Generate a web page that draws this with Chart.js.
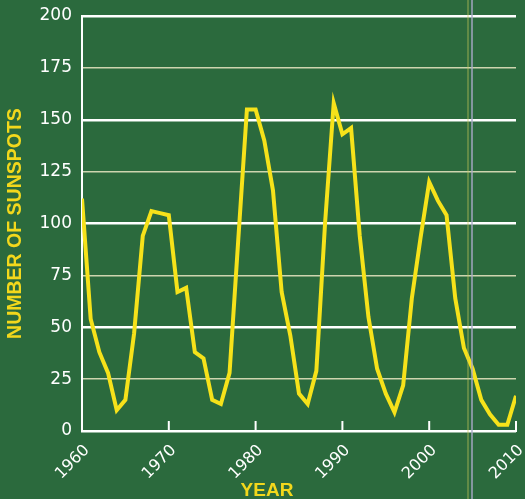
<!DOCTYPE html>
<html>
<head>
<meta charset="utf-8">
<script src="https://cdn.jsdelivr.net/npm/chart.js@4.4.1/dist/chart.umd.min.js"></script>
<style>
  html, body { margin: 0; padding: 0; background: #2b6a3d; }
  #wrap { position: relative; width: 525px; height: 499px; }
  #fold { position: absolute; left: 467px; top: 0; width: 6px; height: 499px;
          background: linear-gradient(to right, rgba(200,200,90,0.35) 0 2px, transparent 2px 4px, rgba(170,170,200,0.7) 4px 6px);
          pointer-events: none; }
</style>
</head>
<body>
<div id="wrap">
  <canvas id="sunspots" width="525" height="499"></canvas>
  <div id="fold"></div>
</div>
<script>
// yearly mean sunspot numbers
const years = [1960, 1961, 1962, 1963, 1964, 1965, 1966, 1967, 1968, 1969,
               1970, 1971, 1972, 1973, 1974, 1975, 1976, 1977, 1978, 1979,
               1980, 1981, 1982, 1983, 1984, 1985, 1986, 1987, 1988, 1989,
               1990, 1991, 1992, 1993, 1994, 1995, 1996, 1997, 1998, 1999,
               2000, 2001, 2002, 2003, 2004, 2005, 2006, 2007, 2008, 2009, 2010]
const sunspots = [112, 54, 38, 28, 10, 15, 47, 94, 106, 105,
                  104, 67, 69, 38, 35, 15, 13, 28, 92, 155,
                  155, 140, 116, 67, 46, 18, 13, 29, 100, 158,
                  143, 146, 94, 55, 30, 18, 9, 22, 64, 93,
                  120, 111, 104, 64, 40, 30, 15, 8, 3, 3, 17]
const decadeTicks = [1960, 1970, 1980, 1990, 2000, 2010]
const countTicks = [0, 25, 50, 75, 100, 125, 150, 175, 200]

const lineYellow = '#f6e21a'
const titleYellow = '#f2d81c'

// small upward tick marks on the year axis + the offset "YEAR" label
const yearAxisExtras = {
  id: 'yearAxisExtras',
  beforeDatasetsDraw(chart) {
    const { ctx, scales: { x, y } } = chart
    const base = y.getPixelForValue(0)
    ctx.save()
    ctx.strokeStyle = '#ffffff'
    ctx.lineWidth = 2
    decadeTicks.slice(1).forEach((yr) => {
      const px = x.getPixelForValue(yr)
      ctx.beginPath()
      ctx.moveTo(px, base)
      ctx.lineTo(px, base - 10)
      ctx.stroke()
    })
    ctx.restore()
  },
  afterDraw(chart) {
    const { ctx, chartArea } = chart
    ctx.save()
    ctx.fillStyle = titleYellow
    ctx.font = 'bold 19px "Liberation Sans", Arial, sans-serif'
    ctx.textAlign = 'center'
    ctx.textBaseline = 'middle'
    ctx.fillText('YEAR', chartArea.left + 185, 491)
    ctx.restore()
  }
}

new Chart(document.getElementById('sunspots'), {
  type: 'line',
  data: {
    datasets: [{
      data: years.map((yr, i) => ({ x: yr, y: sunspots[i] })),
      borderColor: lineYellow,
      borderWidth: 4,
      pointRadius: 0,
      tension: 0,
      fill: false
    }]
  },
  options: {
    responsive: false,
    animation: false,
    layout: { padding: { top: 16, right: 9, left: 0, bottom: 0 } },
    plugins: {
      legend: { display: false },
      tooltip: { enabled: false }
    },
    scales: {
      x: {
        type: 'linear',
        min: 1960,
        max: 2010,
        afterBuildTicks: (scale) => { scale.ticks = decadeTicks.map((v) => ({ value: v })) },
        afterFit: (scale) => {
          scale.height = 68
          scale.paddingLeft = 0
          scale.paddingRight = 0
        },
        grid: { display: false },
        border: { display: true, color: '#ffffff', width: 2 },
        ticks: {
          autoSkip: false,
          minRotation: 45,
          maxRotation: 45,
          padding: 2,
          labelOffset: 5,
          color: '#ffffff',
          font: { family: '"DejaVu Sans", sans-serif', size: 16 },
          callback: (v) => String(v)
        }
      },
      y: {
        min: 0,
        max: 200,
        afterBuildTicks: (scale) => { scale.ticks = countTicks.map((v) => ({ value: v })) },
        afterFit: (scale) => {
          scale.width = 82
          scale.paddingTop = 0
          scale.paddingBottom = 0
        },
        grid: {
          drawTicks: false,
          color: (c) => (c.tick && c.tick.value % 50 === 0 ? '#ffffff' : 'rgba(235,232,195,0.85)'),
          lineWidth: (c) => (c.tick && c.tick.value % 50 === 0 ? 2.5 : 1.5)
        },
        border: { display: true, color: '#ffffff', width: 2 },
        ticks: {
          padding: 10,
          color: '#ffffff',
          font: { family: '"DejaVu Sans", sans-serif', size: 17 }
        },
        title: {
          display: true,
          text: 'NUMBER OF SUNSPOTS',
          color: titleYellow,
          font: { family: '"Liberation Sans", Arial, sans-serif', size: 19.5, weight: 'bold' },
          padding: { top: 4, bottom: 0 }
        }
      }
    }
  },
  plugins: [yearAxisExtras]
})
</script>
</body>
</html>
